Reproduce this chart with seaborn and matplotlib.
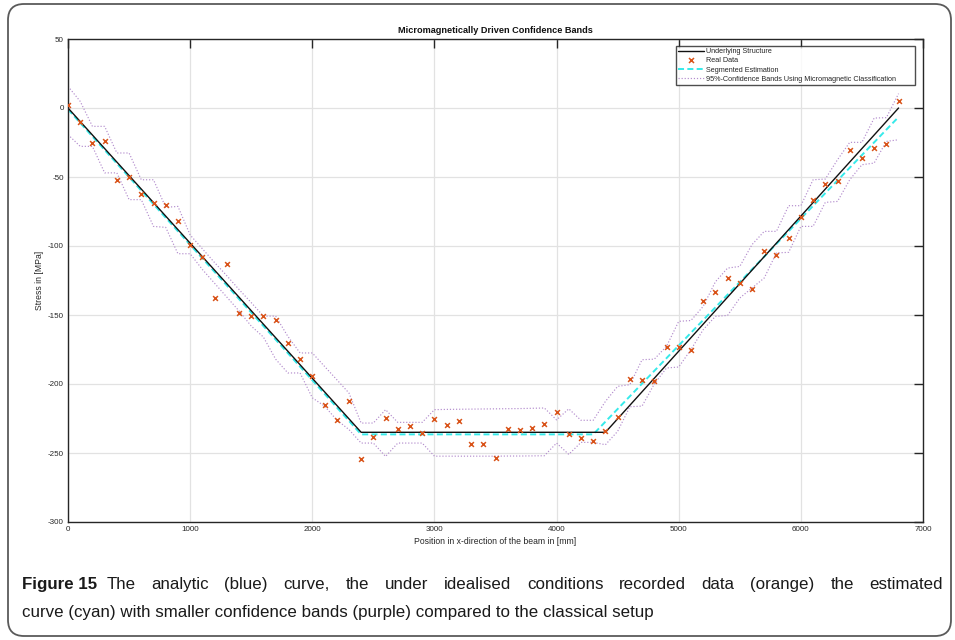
import matplotlib
matplotlib.use("Agg")
import matplotlib.pyplot as plt
import seaborn as sns
from matplotlib.lines import Line2D
from matplotlib.patches import FancyBboxPatch
from matplotlib.transforms import IdentityTransform
from matplotlib import font_manager

# ---- data -------------------------------------------------------------
position_mm = [0, 100, 200, 300, 400, 500, 600, 700, 800, 900,
               1000, 1100, 1200, 1300, 1400, 1500, 1600, 1700, 1800, 1900,
               2000, 2100, 2200, 2300, 2400, 2500, 2600, 2700, 2800, 2900,
               3000, 3100, 3200, 3300, 3400, 3500, 3600, 3700, 3800, 3900,
               4000, 4100, 4200, 4300, 4400, 4500, 4600, 4700, 4800, 4900,
               5000, 5100, 5200, 5300, 5400, 5500, 5600, 5700, 5800, 5900,
               6000, 6100, 6200, 6300, 6400, 6500, 6600, 6700, 6800]

measured_stress = [2, -10, -25, -24, -52, -50, -62.6, -69, -70.3, -82,
                   -99.3, -108, -137.7, -112.8, -148.8, -150.5, -150.7, -153.4, -170, -182,
                   -194, -215, -226.3, -212, -254.6, -238.6, -224.6, -232.8, -230.7, -235.3,
                   -225, -230, -227, -243.2, -243.2, -253.4, -232.3, -233.6, -232, -228.8,
                   -220, -236.4, -239.2, -241.5, -234.2, -223.7, -196.2, -196.9, -198, -172.9,
                   -172.9, -175.5, -139.6, -133, -123, -126.6, -130.9, -103.4, -106.8, -94.4,
                   -79.3, -66.7, -55.4, -53.2, -30.7, -36, -28.8, -26.4, 5.4]

band_upper = [15.7, 4.8, -13.3, -13.3, -32.6, -32.6, -52, -52, -72, -71.3,
              -92, -102, -112, -121.5, -131.5, -141, -150.8, -150.8, -165.5, -177.5,
              -177.5, -187.2, -196.8, -206.5, -228.3, -228.3, -218.6, -227.8, -227.8, -227.8,
              -218.6, -218.4, -218.3, -218.2, -218.1, -218, -217.9, -217.8, -217.6, -217.4,
              -226, -218, -226.3, -226.3, -212.6, -201.7, -200.5, -182.4, -182, -172.7,
              -154.6, -154, -143.8, -126, -116, -114.8, -99, -89.4, -89.4, -70.8,
              -70.8, -52, -51.5, -37.5, -24.9, -24.9, -7.3, -7, 10.4]

band_lower = [-19.3, -27.8, -27.8, -47, -47, -66.4, -66.4, -85.8, -86.5, -105.6,
              -105.6, -117, -127, -137, -147, -158, -166, -182, -192, -192,
              -210, -216, -226, -233, -242.8, -242.8, -252.5, -242.8, -242.8, -242.8,
              -252.3, -252.3, -252.3, -252.3, -252.3, -252.3, -252.2, -252.2, -252.1, -252,
              -242.8, -251, -242.3, -242.3, -244, -234.3, -216.5, -216, -200, -188.4,
              -187.7, -175.1, -160.7, -151, -150.3, -137.7, -130.4, -123.2, -105, -104.6,
              -85.8, -85.8, -68.4, -67.7, -52, -41.1, -39.9, -24.2, -23]

structure_x = [0, 2400, 4400, 6800]
structure_y = [0, -235, -235, 0]

estimate_x = [0, 2400, 4300, 6800]
estimate_y = [-1, -236.5, -236.5, -6.5]

x_ticks = [0, 1000, 2000, 3000, 4000, 5000, 6000, 7000]
x_tick_labels = ["0", "1000", "2000", "3000", "4000", "5000", "6000", "7000"]
y_ticks = [-300, -250, -200, -150, -100, -50, 0, 50]
y_tick_labels = ["-300", "-250", "-200", "-150", "-100", "-50", "0", "50"]

legend_labels = ["Underlying Structure", "Real Data", "Segmented Estimation",
                 "95%-Confidence Bands Using Micromagnetic Classification"]

caption_bold = "Figure 15"
caption_line1 = "The analytic (blue) curve, the under idealised conditions recorded data (orange) the estimated"
caption_line2 = "curve (cyan) with smaller confidence bands (purple) compared to the classical setup"

# ---- style --------------------------------------------------------------
sns.set_style("white")
plt.rcParams["font.family"] = ["Liberation Sans", "DejaVu Sans"]
plt.rcParams["axes.unicode_minus"] = False

installed = {f.name for f in font_manager.fontManager.ttflist}
caption_family = ["Liberation Sans Narrow", "Liberation Sans", "DejaVu Sans"] \
    if "Liberation Sans Narrow" in installed else ["Liberation Sans", "DejaVu Sans"]

c_struct = "#111111"
c_data = "#D95319"
c_est = "#36EAEA"
c_band = "#B38CCD"
txt = "#262626"

W, H = 955, 640
fig = plt.figure(figsize=(W / 100, H / 100), dpi=100)
ax = fig.add_axes([68 / W, 1 - 522 / H, 855 / W, 483 / H])

ax.grid(True, color="#e2e2e2", linewidth=0.9)
ax.set_axisbelow(True)

band_style = dict(color=c_band, linewidth=0.85, linestyle=(0, (1, 1.6)))
sns.lineplot(x=position_mm, y=band_upper, ax=ax, estimator=None, sort=False,
             legend=False, **band_style)
sns.lineplot(x=position_mm, y=band_lower, ax=ax, estimator=None, sort=False,
             legend=False, **band_style)

est_style = dict(color=c_est, linewidth=1.4, linestyle=(0, (3.1, 1.7)))
sns.lineplot(x=estimate_x, y=estimate_y, ax=ax, estimator=None, sort=False,
             legend=False, **est_style)

struct_style = dict(color=c_struct, linewidth=1.0, linestyle="-")
sns.lineplot(x=structure_x, y=structure_y, ax=ax, estimator=None, sort=False,
             legend=False, **struct_style)

sns.scatterplot(x=position_mm, y=measured_stress, ax=ax, marker="x", s=12,
                color=c_data, linewidth=1.1, legend=False, zorder=5)

ax.set_xlim(0, 7000)
ax.set_ylim(-300, 50)
ax.set_xticks(x_ticks)
ax.set_xticklabels(x_tick_labels)
ax.set_yticks(y_ticks)
ax.set_yticklabels(y_tick_labels)
ax.tick_params(direction="in", length=6.5, width=1.0, top=True, right=True,
               labelsize=5.8, pad=3, colors=txt)
for sp in ax.spines.values():
    sp.set_visible(True)
    sp.set_color(txt)
    sp.set_linewidth(1.0)

ax.set_title("Micromagnetically Driven Confidence Bands", fontsize=6.6,
             fontweight="bold", pad=4, color="#111111")
ax.set_xlabel("Position in x-direction of the beam in [mm]", fontsize=6.2,
              color=txt, labelpad=3)
ax.set_ylabel("Stress in [MPa]", fontsize=6.2, color=txt, labelpad=3)

handles = [
    Line2D([], [], **struct_style),
    Line2D([], [], color=c_data, marker="x", linestyle="none", markersize=3.6,
           markeredgewidth=1.1),
    Line2D([], [], **est_style),
    Line2D([], [], **band_style),
]
leg_x0 = (676 - 68) / 855
leg_w = (915 - 676) / 855
leg_top = (522 - 46) / 483
leg = ax.legend(handles, legend_labels, loc="upper left", mode="expand",
                bbox_to_anchor=(leg_x0, leg_top - 0.3, leg_w, 0.3),
                fontsize=5.2, frameon=True, fancybox=False, edgecolor="#222222",
                borderpad=0.3, handlelength=3.6, handletextpad=0.3,
                labelspacing=0.3, borderaxespad=0)
leg.get_frame().set_linewidth(1.0)

# ---- caption (first line justified, last line left aligned) -------------
cap_size = 12.2
cap_color = "#1a1a1a"
base1 = 1 - 589 / H
base2 = 1 - 617 / H
t_bold = fig.text(22 / W, base1, caption_bold, fontsize=cap_size,
                  fontweight="bold", family=caption_family, color=cap_color,
                  va="baseline", ha="left")
fig.canvas.draw()
renderer = fig.canvas.get_renderer()
start = t_bold.get_window_extent(renderer).x1 + 9
right_edge = 943

words = caption_line1.split()
word_texts = [fig.text(0, base1, w, fontsize=cap_size, family=caption_family,
                       color=cap_color, va="baseline", ha="left") for w in words]
widths = [t.get_window_extent(renderer).width for t in word_texts]
gap = (right_edge - start - sum(widths)) / (len(words) - 1)
xpos = start
for t, wd in zip(word_texts, widths):
    t.set_x(xpos / W)
    xpos += wd + gap

fig.text(22 / W, base2, caption_line2, fontsize=cap_size,
         family=caption_family, color=cap_color, va="baseline", ha="left")

# rounded frame around the whole figure
frame = FancyBboxPatch((8, 4), 943, 632, boxstyle="round,pad=0,rounding_size=16",
                       transform=IdentityTransform(), facecolor="none",
                       edgecolor="#5a5a5a", linewidth=1.3)
fig.add_artist(frame)

fig.savefig("out.png", dpi=100)
